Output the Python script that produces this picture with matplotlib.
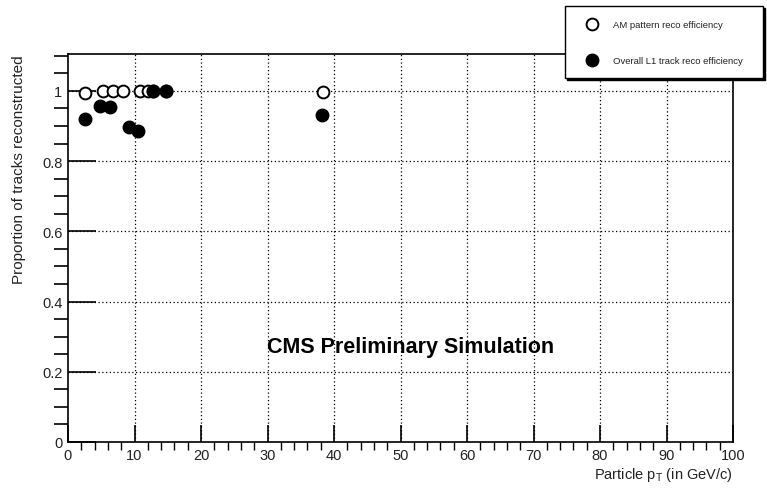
import matplotlib
matplotlib.use("Agg")
import matplotlib.pyplot as plt
from matplotlib.patches import Rectangle
from matplotlib.lines import Line2D
from matplotlib.ticker import MultipleLocator

plt.rcParams['font.family'] = ['Liberation Sans', 'DejaVu Sans']

# Data
am_pt = [2.6, 5.2, 6.8, 8.3, 10.8, 12.1, 12.8, 14.7, 38.4]
am_eff = [0.993, 1.0, 1.0, 1.0, 1.0, 1.0, 1.0, 1.0, 0.998]
l1_pt = [2.6, 4.8, 6.3, 9.2, 10.6, 12.8, 14.7, 38.2]
l1_eff = [0.92, 0.958, 0.953, 0.897, 0.887, 1.0, 1.0, 0.931]

W, H = 767, 489
fig = plt.figure(figsize=(W/100, H/100), dpi=100)
ax = fig.add_axes([68/W, 1-443/H, (733-68)/W, (443-55)/H])
ax.set_xlim(0, 100)
ax.set_ylim(0, 1.105)

ax.plot(am_pt, am_eff, 'o', ms=8.5, mfc='white', mec='black', mew=1.4, zorder=3)
ax.plot(l1_pt, l1_eff, 'o', ms=9, mfc='black', mec='black', zorder=4)

ax.xaxis.set_major_locator(MultipleLocator(10))
ax.xaxis.set_minor_locator(MultipleLocator(2))
ax.yaxis.set_major_locator(MultipleLocator(0.2))
ax.yaxis.set_minor_locator(MultipleLocator(0.05))
ax.set_yticks([0, 0.2, 0.4, 0.6, 0.8, 1.0])
ax.set_yticklabels(['0', '0.2', '0.4', '0.6', '0.8', '1'])
ax.tick_params(axis='both', direction='in', top=False, right=False, labelsize=10.5,
               colors='black', labelcolor='#222222', width=1.2)
ax.tick_params(axis='y', which='major', length=20, pad=4)
ax.tick_params(axis='y', which='minor', length=10, width=1.2)
ax.tick_params(axis='x', which='major', length=12, pad=4)
ax.tick_params(axis='x', which='minor', length=6, width=1.0)
for s in ax.spines.values():
    s.set_linewidth(1.2)

for x in range(10, 100, 10):
    ax.axvline(x, color='black', ls=(0, (1, 2)), lw=0.9, zorder=1)
for y in [0.2, 0.4, 0.6, 0.8, 1.0]:
    ax.axhline(y, color='black', ls=(0, (1, 2)), lw=0.9, zorder=1)

ax.set_ylabel('Proportion of tracks reconstructed', fontsize=11, color='#222222')
ax.yaxis.set_label_coords(-0.063, 1.0)
ax.yaxis.label.set_ha('right')
fig.text(733/W, 1-475/H, r'Particle p$_{\mathregular{T}}$ (in GeV/c)', ha='right', va='center',
         fontsize=10.5, color='#222222')

ax.text(411/W, 1-347/H, 'CMS Preliminary Simulation', transform=fig.transFigure,
        ha='center', va='center', fontsize=15.5, fontweight='bold')

# Legend box
x0, y0, x1, y1 = 565, 7, 763, 79
fig.patches.append(Rectangle((x0/W + 2/W, 1-(y1+2)/H), (x1-x0)/W, (y1-y0)/H,
                             transform=fig.transFigure, fc='black', ec='black', zorder=5))
fig.patches.append(Rectangle((x0/W, 1-y1/H), (x1-x0)/W, (y1-y0)/H,
                             transform=fig.transFigure, fc='white', ec='black', lw=1.0, zorder=6))
fig.lines.append(Line2D([592/W], [1-25/H], marker='o', ms=8.5, mfc='white', mec='black', mew=1.4,
                        transform=fig.transFigure, zorder=7))
fig.lines.append(Line2D([592/W], [1-61/H], marker='o', ms=9, mfc='black', mec='black',
                        transform=fig.transFigure, zorder=7))
fig.text(613/W, 1-25/H, 'AM pattern reco efficiency', fontsize=6.8, va='center', zorder=8, color='#222222')
fig.text(613/W, 1-61/H, 'Overall L1 track reco efficiency', fontsize=6.8, va='center', zorder=8, color='#222222')

fig.savefig('out.png', dpi=100)
